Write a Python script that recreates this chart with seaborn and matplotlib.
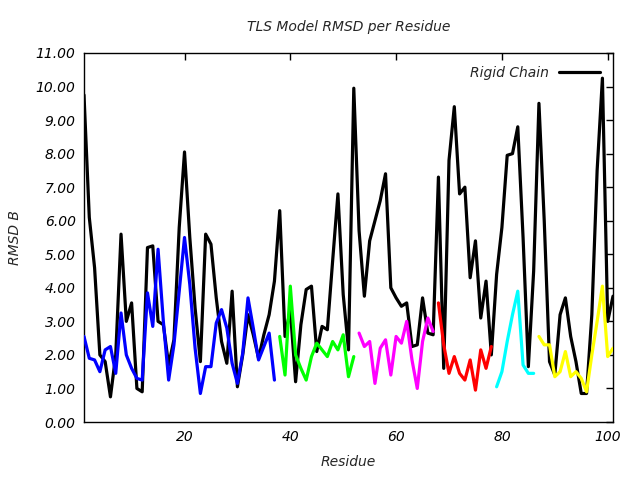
import matplotlib
matplotlib.use("Agg")
import matplotlib.pyplot as plt
import seaborn as sns
import numpy as np
import pandas as pd

# ---- data ----
rigid_res = list(range(1, 102))
rigid_rmsd = [
    9.75, 6.1, 4.6, 2.0, 1.8, 0.75, 2.0, 5.6, 3.0, 3.55,
    1.0, 0.9, 5.2, 5.25, 3.0, 2.9, 1.7, 2.45, 5.8, 8.05,
    5.5, 3.4, 1.8, 5.6, 5.3, 3.7, 2.4, 1.75, 3.9, 1.05,
    2.0, 3.2, 2.6, 1.9, 2.6, 3.2, 4.2, 6.3, 2.55, 3.35,
    1.2, 2.9, 3.95, 4.05, 2.1, 2.85, 2.75, 4.8, 6.8, 3.8,
    2.15, 9.95, 5.7, 3.75, 5.4, 6.0, 6.6, 7.4, 4.0, 3.7,
    3.45, 3.55, 2.25, 2.3, 3.7, 2.65, 2.6, 7.3, 1.6, 7.8,
    9.4, 6.8, 7.0, 4.3, 5.4, 3.1, 4.2, 2.0, 4.4, 5.8,
    7.95, 8.0, 8.8, 5.5, 1.65, 4.5, 9.5, 6.0, 1.8, 1.4,
    3.2, 3.7, 2.55, 1.8, 0.85, 0.85, 3.2, 7.5, 10.25, 3.0,
    3.75,
]

blue_res = list(range(1, 38))
blue_rmsd = [
    2.55, 1.9, 1.85, 1.5, 2.15, 2.25, 1.45, 3.25, 2.0, 1.6,
    1.3, 1.25, 3.85, 2.85, 5.15, 3.0, 1.25, 2.3, 3.9, 5.5,
    4.1, 2.2, 0.85, 1.65, 1.65, 2.95, 3.35, 2.8, 1.75, 1.15,
    2.05, 3.7, 2.8, 1.85, 2.25, 2.65, 1.25,
]

green_res = list(range(38, 53))
green_rmsd = [2.55, 1.4, 4.05, 2.0, 1.6, 1.25, 1.95, 2.35, 2.15, 1.95,
              2.4, 2.15, 2.6, 1.35, 1.95]

magenta_res = list(range(53, 68))
magenta_rmsd = [2.65, 2.25, 2.4, 1.15, 2.2, 2.45, 1.4, 2.55, 2.35, 3.0,
                1.85, 1.0, 2.4, 3.1, 2.7]

red_res = list(range(68, 79))
red_rmsd = [3.55, 2.3, 1.45, 1.95, 1.45, 1.25, 1.85, 0.95, 2.15, 1.6, 2.25]

cyan_res = list(range(79, 87))
cyan_rmsd = [1.05, 1.5, 2.4, 3.2, 3.9, 1.7, 1.45, 1.45]

yellow_res = list(range(87, 102))
yellow_rmsd = [2.55, 2.3, 2.3, 1.35, 1.5, 2.1, 1.35, 1.5, 1.3, 0.9,
               2.0, 3.0, 4.05, 1.95, 2.2]

y_ticks = [0, 1, 2, 3, 4, 5, 6, 7, 8, 9, 10, 11]
x_ticks = [20, 40, 60, 80, 100]

# ---- plot ----
sns.set_style("white")
plt.rcParams["font.family"] = ["DejaVu Sans"]
plt.rcParams["font.style"] = "italic"

fig = plt.figure(figsize=(6.4, 4.8), dpi=100)
ax = fig.add_axes([84 / 640, 1 - 422 / 480, (613 - 84) / 640, (422 - 53) / 480])

lw = 2.3
segments = [
    (blue_res, blue_rmsd, "#0000ff"),
    (green_res, green_rmsd, "#00ff00"),
    (magenta_res, magenta_rmsd, "#ff00ff"),
    (red_res, red_rmsd, "#ff0000"),
    (cyan_res, cyan_rmsd, "#00ffff"),
    (yellow_res, yellow_rmsd, "#ffff00"),
]
rigid_df = pd.DataFrame({"Residue": rigid_res, "RMSD": rigid_rmsd})
sns.lineplot(data=rigid_df, x="Residue", y="RMSD", color="black", lw=lw,
             ax=ax, label="Rigid Chain", zorder=2)
for res, vals, col in segments:
    df = pd.DataFrame({"Residue": res, "RMSD": vals})
    sns.lineplot(data=df, x="Residue", y="RMSD", color=col, lw=lw, ax=ax,
                 legend=False, zorder=3)

ax.set_xlim(1, 101)
ax.set_ylim(0, 11)
ax.set_xticks(x_ticks)
ax.set_yticks(y_ticks)
ax.set_yticklabels([f"{v:.2f}" for v in y_ticks])
ax.tick_params(direction="in", top=True, right=True, length=5, width=1,
               labelsize=10, pad=6, colors="black")
for s in ax.spines.values():
    s.set_color("black")
    s.set_linewidth(1)

ax.set_xlabel("Residue", fontsize=10, style="italic", labelpad=8)
ax.set_ylabel("RMSD B", fontsize=10, style="italic", labelpad=10)
ax.set_title("TLS Model RMSD per Residue", fontsize=10, style="italic", pad=16)

leg = ax.legend(loc="upper right", frameon=False, markerfirst=False,
                fontsize=10, handlelength=3.0, borderaxespad=0.9,
                handletextpad=0.7, borderpad=0.0)
for t in leg.get_texts():
    t.set_style("italic")

fig.savefig("out.png", dpi=100)
